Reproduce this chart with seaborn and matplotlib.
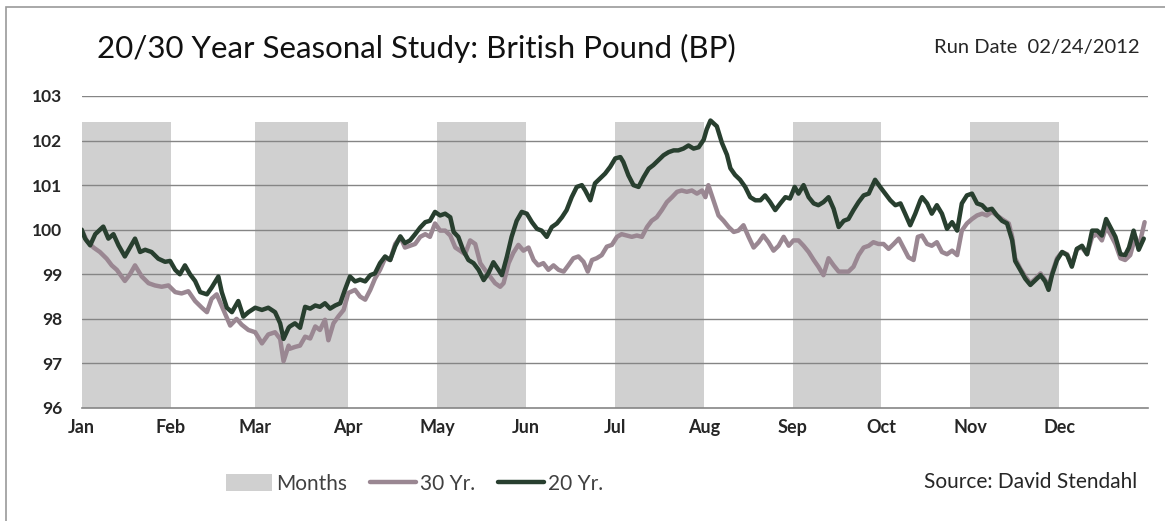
import matplotlib

matplotlib.use("Agg")
import matplotlib.pyplot as plt
import numpy as np
import pandas as pd
import seaborn as sns
from matplotlib.lines import Line2D
from matplotlib.patches import Patch, Rectangle

TITLE = "20/30 Year Seasonal Study: British Pound (BP)"
RUN_DATE = "Run Date  02/24/2012"
SOURCE = "Source: David Stendahl"

MONTHS = ["Jan", "Feb", "Mar", "Apr", "May", "Jun",
          "Jul", "Aug", "Sep", "Oct", "Nov", "Dec"]
# trading-day index where each month starts, plus the year end
MONTH_START = [0, 21, 41, 63, 84, 105, 126, 147, 168, 189, 210, 231, 252]
BAND_TOP = 102.41
Y_MIN, Y_MAX = 96, 103

DAYS_20 = [
    0.0, 0.8, 2.0, 3.2, 5.1, 6.3, 7.5, 8.7, 10.2, 11.4, 12.6, 13.8, 15.0, 16.5,
    18.1, 19.7, 20.9, 22.1, 23.2, 24.4, 25.6, 26.8, 28.0, 29.6, 30.7, 32.3,
    33.1, 34.3, 35.5, 37.0, 38.2, 39.4, 41.0, 42.6, 44.1, 45.7, 46.9, 47.7,
    48.9, 49.2, 50.4, 51.6, 52.8, 54.0, 55.2, 56.3, 57.5, 58.7, 59.9, 61.1,
    62.2, 63.4, 64.6, 65.8, 67.0, 68.2, 69.3, 70.5, 71.7, 72.9, 74.1, 75.3,
    76.4, 77.6, 78.8, 80.0, 81.2, 82.3, 83.5, 84.7, 85.9, 87.1, 87.9, 89.0,
    90.2, 91.4, 92.6, 93.8, 95.0, 96.1, 97.3, 98.5, 99.3, 100.5, 101.6, 102.8,
    104.0, 105.2, 106.4, 107.6, 108.7, 109.9, 111.1, 112.3, 113.5, 114.6,
    115.8, 117.0, 118.2, 119.0, 120.2, 121.3, 122.5, 123.7, 124.9, 126.1,
    127.3, 128.0, 129.2, 130.4, 131.6, 132.8, 134.0, 135.1, 136.3, 137.5,
    138.7, 139.9, 141.0, 142.2, 143.4, 144.6, 145.8, 147.0, 147.7, 148.6,
    150.1, 151.3, 152.5, 153.3, 154.4, 155.6, 156.8, 158.0, 159.2, 160.4,
    161.5, 162.7, 163.9, 165.1, 166.3, 167.4, 168.5, 169.4, 170.6, 171.8,
    173.0, 174.1, 175.3, 176.5, 177.7, 178.9, 180.1, 181.2, 182.4, 183.6,
    184.8, 186.0, 187.5, 188.7, 189.9, 191.1, 192.3, 193.5, 194.6, 195.8,
    197.0, 198.2, 198.6, 199.8, 200.9, 202.1, 203.3, 204.5, 205.7, 206.9,
    208.0, 209.2, 210.4, 211.6, 212.8, 213.9, 215.1, 216.3, 217.5, 218.7,
    219.9, 220.6, 221.8, 223.0, 224.2, 225.4, 226.6, 227.7, 228.5, 229.3,
    230.5, 231.7, 232.9, 234.0, 235.2, 236.4, 237.6, 238.8, 240.0, 241.1,
    242.1, 243.1, 244.3, 245.5, 246.6, 247.5, 248.6, 249.8, 251.0,
]
VALUES_20 = [
    100.0, 99.8, 99.65, 99.9, 100.07, 99.8, 99.9, 99.65, 99.4, 99.6, 99.8,
    99.5, 99.55, 99.5, 99.35, 99.28, 99.3, 99.1, 99.0, 99.2, 99.0, 98.85,
    98.6, 98.55, 98.7, 98.95, 98.6, 98.25, 98.15, 98.4, 98.05, 98.15, 98.25,
    98.2, 98.25, 98.15, 97.9, 97.55, 97.8, 97.83, 97.9, 97.8, 98.27, 98.23,
    98.3, 98.27, 98.35, 98.23, 98.3, 98.35, 98.65, 98.95, 98.84, 98.88,
    98.84, 98.98, 99.02, 99.25, 99.4, 99.32, 99.63, 99.85, 99.7, 99.76, 99.9,
    100.05, 100.17, 100.2, 100.4, 100.32, 100.36, 100.28, 99.95, 99.84,
    99.53, 99.32, 99.25, 99.1, 98.87, 99.02, 99.27, 99.1, 98.98, 99.4, 99.84,
    100.2, 100.4, 100.36, 100.17, 100.02, 99.98, 99.84, 100.06, 100.14,
    100.28, 100.44, 100.73, 100.96, 101.0, 100.88, 100.66, 101.04, 101.15,
    101.26, 101.41, 101.6, 101.63, 101.52, 101.22, 101.0, 100.96, 101.18,
    101.37, 101.45, 101.56, 101.67, 101.74, 101.78, 101.78, 101.82, 101.89,
    101.82, 101.85, 102.02, 102.25, 102.45, 102.32, 101.95, 101.68, 101.38,
    101.23, 101.12, 100.96, 100.73, 100.66, 100.66, 100.77, 100.62, 100.44,
    100.59, 100.73, 100.7, 100.96, 100.81, 101.0, 100.73, 100.59, 100.55,
    100.62, 100.73, 100.47, 100.06, 100.2, 100.24, 100.44, 100.62, 100.77,
    100.81, 101.12, 100.96, 100.81, 100.66, 100.55, 100.59, 100.36, 100.1,
    100.36, 100.66, 100.73, 100.59, 100.36, 100.55, 100.36, 100.02, 100.17,
    99.98, 100.59, 100.77, 100.81, 100.59, 100.55, 100.44, 100.47, 100.32,
    100.2, 100.14, 99.76, 99.3, 99.1, 98.9, 98.76, 98.87, 98.98, 98.84, 98.65,
    98.98, 99.32, 99.5, 99.43, 99.17, 99.57, 99.64, 99.45, 99.98, 99.98,
    99.87, 100.24, 100.06, 99.84, 99.45, 99.43, 99.6, 99.98, 99.55, 99.8,
]

DAYS_30 = [
    0.0, 1.2, 2.8, 4.3, 5.9, 7.1, 8.3, 10.2, 11.4, 12.6, 14.2, 15.8, 17.3,
    18.9, 20.5, 22.1, 23.6, 25.2, 26.8, 28.4, 29.6, 30.7, 31.9, 33.5, 35.1,
    36.6, 37.8, 39.4, 41.0, 42.6, 44.1, 45.7, 46.9, 47.7, 48.9, 49.2, 50.4,
    51.6, 52.8, 54.0, 55.2, 56.3, 57.5, 58.3, 59.5, 60.7, 61.9, 63.0, 64.6,
    65.8, 67.0, 68.2, 69.3, 70.5, 71.7, 72.9, 74.1, 75.3, 76.4, 77.6, 78.8,
    80.0, 81.2, 82.3, 83.5, 84.7, 85.9, 87.1, 88.3, 89.4, 90.6, 91.8, 93.0,
    94.2, 95.3, 96.5, 97.7, 98.9, 99.7, 100.9, 102.0, 103.2, 104.4, 105.6,
    106.8, 107.9, 109.1, 110.3, 111.5, 112.7, 113.9, 115.0, 116.2, 117.4,
    118.6, 119.6, 120.6, 121.7, 122.9, 124.1, 125.3, 126.5, 127.6, 128.8,
    130.0, 131.2, 132.4, 133.6, 134.7, 135.9, 137.1, 138.3, 139.5, 140.7,
    141.8, 143.0, 144.2, 145.4, 146.6, 147.4, 148.1, 149.3, 150.5, 151.7,
    152.9, 154.1, 155.2, 156.4, 157.6, 158.8, 160.0, 161.1, 162.3, 163.5,
    164.7, 165.9, 167.1, 168.2, 169.4, 170.6, 171.8, 173.0, 174.1, 175.3,
    176.5, 177.7, 178.9, 180.1, 181.2, 182.4, 183.6, 184.8, 186.0, 187.1,
    188.3, 189.5, 190.7, 191.9, 193.1, 194.2, 195.4, 196.6, 197.6, 198.6,
    199.8, 200.9, 202.1, 203.3, 204.5, 205.7, 206.9, 208.0, 209.2, 210.4,
    211.6, 212.8, 213.9, 215.1, 216.3, 217.5, 219.1, 219.9, 220.6, 221.8,
    223.0, 224.2, 225.4, 226.6, 227.7, 228.5, 229.3, 230.5, 231.7, 232.9,
    234.0, 235.2, 236.4, 237.6, 238.8, 240.0, 241.1, 242.1, 243.1, 244.3,
    245.5, 246.6, 247.8, 249.0, 249.8, 251.2,
]
VALUES_30 = [
    100.0, 99.75, 99.6, 99.5, 99.35, 99.2, 99.1, 98.85, 99.0, 99.2, 98.95,
    98.8, 98.75, 98.72, 98.75, 98.6, 98.57, 98.62, 98.4, 98.25, 98.15, 98.45,
    98.55, 98.2, 97.85, 98.0, 97.87, 97.75, 97.7, 97.45, 97.65, 97.7, 97.55,
    97.05, 97.4, 97.33, 97.37, 97.4, 97.6, 97.56, 97.83, 97.75, 97.98, 97.52,
    97.9, 98.06, 98.2, 98.58, 98.65, 98.5, 98.43, 98.65, 98.9, 99.1, 99.36,
    99.32, 99.68, 99.84, 99.6, 99.64, 99.68, 99.84, 99.9, 99.84, 100.14,
    99.98, 99.98, 99.87, 99.6, 99.53, 99.45, 99.76, 99.68, 99.25, 99.1,
    98.95, 98.8, 98.72, 98.8, 99.25, 99.48, 99.66, 99.53, 99.6, 99.32, 99.2,
    99.25, 99.1, 99.2, 99.1, 99.06, 99.2, 99.36, 99.4, 99.28, 99.06, 99.32,
    99.36, 99.43, 99.62, 99.66, 99.84, 99.9, 99.87, 99.84, 99.87, 99.84,
    100.06, 100.2, 100.28, 100.44, 100.62, 100.73, 100.85, 100.88, 100.85,
    100.88, 100.81, 100.88, 100.73, 101.0, 100.66, 100.32, 100.2, 100.06,
    99.95, 99.98, 100.1, 99.84, 99.6, 99.72, 99.87, 99.72, 99.53, 99.64,
    99.84, 99.64, 99.76, 99.76, 99.64, 99.5, 99.32, 99.17, 98.98, 99.36,
    99.2, 99.06, 99.06, 99.06, 99.17, 99.43, 99.6, 99.64, 99.72, 99.68,
    99.68, 99.57, 99.68, 99.8, 99.6, 99.38, 99.32, 99.84, 99.87, 99.68,
    99.64, 99.72, 99.5, 99.45, 99.53, 99.43, 99.98, 100.14, 100.24, 100.32,
    100.36, 100.32, 100.4, 100.32, 100.24, 100.14, 99.84, 99.36, 99.13,
    98.95, 98.8, 98.9, 99.02, 98.87, 98.72, 99.02, 99.36, 99.5, 99.45, 99.2,
    99.57, 99.6, 99.45, 99.84, 99.9, 99.76, 100.06, 99.9, 99.68, 99.36,
    99.32, 99.43, 99.84, 99.6, 100.17,
]

BAND_COLOR = "#d0d0d0"
COLOR_30 = "#9a8792"
COLOR_20 = "#283f2f"
TEXT_COLOR = "#262626"
GRID_COLOR = "#858585"

W, H = 1165, 521


def main() -> None:
    sns.set_theme(style="white")
    plt.rcParams["font.family"] = ["Lato", "DejaVu Sans"]

    fig = plt.figure(figsize=(W / 100, H / 100), dpi=100)
    ax = fig.add_axes([81.7 / W, 1 - 408 / H, (1148 - 81.7) / W, (408 - 96) / H])

    # alternating month bands
    starts = np.array(MONTH_START[:-1])
    widths = np.diff(MONTH_START)
    shaded = np.arange(len(MONTHS)) % 2 == 0
    ax.bar(starts[shaded], BAND_TOP - Y_MIN, bottom=Y_MIN, width=widths[shaded],
           align="edge", color=BAND_COLOR, linewidth=0, zorder=1)

    df = pd.concat([
        pd.DataFrame({"day": DAYS_30, "value": VALUES_30, "series": "30 Yr."}),
        pd.DataFrame({"day": DAYS_20, "value": VALUES_20, "series": "20 Yr."}),
    ])
    sns.lineplot(data=df, x="day", y="value", hue="series", sort=False,
                 palette={"30 Yr.": COLOR_30, "20 Yr.": COLOR_20},
                 linewidth=3.2, legend=False, ax=ax, zorder=3)

    ax.set_xlim(MONTH_START[0], MONTH_START[-1])
    ax.set_ylim(Y_MIN, Y_MAX)
    ax.set_yticks(range(Y_MIN, Y_MAX + 1))
    for y in range(Y_MIN + 1, Y_MAX + 1):
        ax.axhline(y, color=GRID_COLOR, linewidth=1.0, zorder=2)

    ax.set_xticks(MONTH_START)
    ax.set_xticklabels(MONTHS + [""])
    ax.set_xlabel("")
    ax.set_ylabel("")
    ax.tick_params(axis="x", direction="out", length=5, width=1, color=GRID_COLOR,
                   pad=3, labelsize=13, labelcolor=TEXT_COLOR)
    ax.tick_params(axis="y", length=0, pad=14, labelsize=12.5, labelcolor=TEXT_COLOR)
    for lbl in ax.get_xticklabels() + ax.get_yticklabels():
        lbl.set_fontweight("bold")

    for side in ["left", "right", "top"]:
        ax.spines[side].set_visible(False)
    ax.spines["bottom"].set_color(GRID_COLOR)
    ax.spines["bottom"].set_linewidth(1.2)
    ax.spines["bottom"].set_zorder(2)

    fig.text(97 / W, 1 - 48 / H, TITLE, fontsize=22.5, color="#111111",
             ha="left", va="center")
    fig.text(1140 / W, 1 - 48 / H, RUN_DATE, fontsize=14.5, color=TEXT_COLOR,
             ha="right", va="center")
    fig.text(1137 / W, 1 - 482 / H, SOURCE, fontsize=15, color=TEXT_COLOR,
             ha="right", va="center")

    handles = [
        Patch(facecolor=BAND_COLOR, edgecolor="none", label="Months"),
        Line2D([0], [0], color=COLOR_30, linewidth=3.2, label="30 Yr."),
        Line2D([0], [0], color=COLOR_20, linewidth=3.2, label="20 Yr."),
    ]
    leg = fig.legend(handles=handles, loc="center", bbox_to_anchor=(415 / W, 1 - 484 / H),
                     ncol=3, frameon=False, fontsize=15, handlelength=2.2,
                     handleheight=0.9, handletextpad=0.2, columnspacing=1.1)
    for t in leg.get_texts():
        t.set_color("#404040")

    # outer chart frame (right and bottom edges run off the picture)
    fig.patches.append(Rectangle((6 / W, -0.05), 1.1, 1.05 - 7 / H,
                                 transform=fig.transFigure, fill=False,
                                 edgecolor="#9a9a9a", linewidth=1.2))

    fig.savefig("out.png", dpi=100)
    plt.close(fig)


if __name__ == "__main__":
    main()
